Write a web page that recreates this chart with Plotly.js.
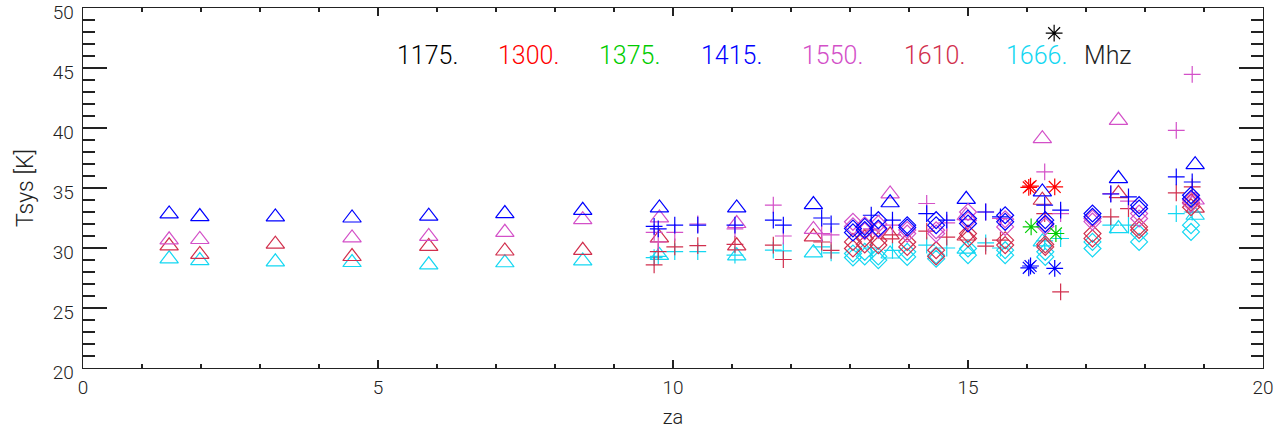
<!DOCTYPE html>
<html>
<head>
<meta charset="utf-8">
<script src="https://cdn.plot.ly/plotly-3.0.1.min.js"></script>
<style>html,body{margin:0;padding:0;background:#fff;}#chart{width:1275px;height:435px;}</style>
</head>
<body>
<div id="chart"></div>
<script>
// ---- frequencies (legend) ----
var freqLabels = ["1175.", "1300.", "1375.", "1415.", "1550.", "1610.", "1666."];
var unitLabel = "Mhz";

// ---- triangles ----
var triZa      = [1.46, 1.98, 3.26, 4.56, 5.86, 7.15, 8.47, 9.77, 11.08, 12.38, 13.68, 14.97, 16.26, 17.55, 18.85];
var triBlue    = [32.84, 32.62, 32.59, 32.50, 32.65, 32.87, 33.14, 33.34, 33.34, 33.62, 33.77, 34.06, 34.67, 35.79, 36.95];
var triMagenta = [30.68, 30.71, null, 30.84, 30.97, 31.31, 32.36, 32.51, 32.04, 31.55, 34.51, 32.70, 39.11, 40.64, 34.00];
var triCrimson = [30.18, 29.47, 30.32, 29.29, 30.13, 29.75, 29.81, 30.84, 30.18, 30.93, 31.10, 31.00, 33.98, 34.54, 33.32];
var triCyan    = [29.10, 28.95, 28.85, 28.79, 28.60, 28.77, 28.92, 29.38, 29.35, 29.60, 29.50, 29.90, 30.51, 31.62, 32.73];

// ---- plus signs ----
var plusZa      = [9.68, 9.75, 10.03, 10.42, 11.05, 11.70, 11.87, 12.52, 12.68, 13.36, 13.72, 14.30, 14.64, 15.30, 15.55, 16.30, 16.57, 17.42, 17.72, 18.53, 18.80];
var plusBlue    = [31.80, 31.60, 31.90, 31.90, 31.90, 32.32, 31.90, 32.50, 32.00, 32.73, 32.32, 32.87, 32.32, 33.00, 32.60, 33.57, 33.15, 34.50, 34.26, 35.92, 35.50];
var plusMagenta = [31.30, 30.50, 31.30, 32.00, 31.60, 33.57, 31.00, 31.20, 31.10, 31.60, 31.90, 33.71, 32.10, 33.00, 32.46, 36.34, 32.87, 34.54, 33.90, 39.80, 44.47];
var plusCrimson = [28.60, 29.70, 30.10, 30.20, 30.30, 30.24, 29.04, 30.50, 29.80, 31.50, 31.10, 31.40, 30.90, 30.15, 30.65, 32.87, 26.35, 32.60, 33.29, 34.60, 35.09];
var plusCyan    = [29.20, 29.30, 29.70, 29.70, 29.40, 29.82, 29.76, 30.10, 29.60, 30.00, 29.80, 30.24, 30.00, 30.43, 30.00, 30.60, 30.79, 31.90, 31.90, 32.87, 33.00];

// ---- diamonds (two overplotted sets) ----
var diaZa       = [13.05, 13.25, 13.48, 13.97, 14.46, 15.00, 15.63, 16.31, 17.11, 17.90, 18.78];
var diaBlueA    = [31.62, 31.76, 32.32, 31.90, 32.32, 32.46, 32.73, 32.32, 32.87, 33.57, 34.40];
var diaBlueB    = [31.30, 31.50, 31.62, 31.70, 31.90, 32.04, 32.18, 32.00, 32.60, 33.29, 34.10];
var diaMagentaA = [32.18, 31.90, 32.00, 31.20, 31.48, 33.00, 32.40, 32.04, 32.46, 32.87, 34.00];
var diaMagentaB = [31.80, 31.40, 31.50, 31.50, 31.20, 32.30, 31.76, 31.80, 32.20, 32.46, 33.70];
var diaCrimsonA = [30.51, 30.79, 30.60, 30.50, 29.82, 31.20, 30.65, 30.09, 31.20, 31.76, 33.80];
var diaCrimsonB = [29.96, 30.30, 30.24, 30.09, 29.30, 30.79, 30.24, 30.30, 30.80, 31.50, 33.40];
var diaCyanA    = [29.54, 29.68, 29.30, 29.68, 29.40, 29.96, 29.82, 29.68, 30.51, 31.21, 31.90];
var diaCyanB    = [29.21, 29.30, 28.99, 29.26, 29.10, 29.40, 29.40, 29.26, 29.96, 30.51, 31.34];

// ---- asterisks ----
var astBlackZa = [16.46];        var astBlack = [47.90];
var astRedZa   = [16.03, 16.06, 16.47]; var astRed   = [35.05, 35.15, 35.09];
var astGreenZa = [16.07, 16.49]; var astGreen = [31.76, 31.21];
var astBlueZa  = [16.03, 16.06, 16.47]; var astBlue  = [28.35, 28.50, 28.30];

// ---- styling ----
var C = {black:"#000000", red:"#ff0000", green:"#00cc00", blue:"#0000ff",
         magenta:"#d350c8", crimson:"#d12f4d", cyan:"#14d7f2"};
var legendColors = [C.black, C.red, C.green, C.blue, C.magenta, C.crimson, C.cyan];

function tr(x, y, sym, size, color) {
  return {x: x, y: y, type: "scatter", mode: "markers", showlegend: false, hoverinfo: "x+y",
          marker: {symbol: sym, size: size, color: color, line: {color: color, width: 1.2}}};
}
var TRI = "triangle-up-open", PLUS = "cross-thin-open", DIA = "diamond-open", AST = "asterisk-open";
var data = [
  tr(triZa, triCyan, TRI, 16, C.cyan),
  tr(triZa, triCrimson, TRI, 16, C.crimson),
  tr(triZa, triMagenta, TRI, 16, C.magenta),
  tr(triZa, triBlue, TRI, 16, C.blue),
  tr(plusZa, plusCyan, PLUS, 12, C.cyan),
  tr(plusZa, plusCrimson, PLUS, 12, C.crimson),
  tr(plusZa, plusMagenta, PLUS, 12, C.magenta),
  tr(plusZa, plusBlue, PLUS, 12, C.blue),
  tr(diaZa, diaCyanB, DIA, 13, C.cyan),
  tr(diaZa, diaCyanA, DIA, 13, C.cyan),
  tr(diaZa, diaCrimsonB, DIA, 13, C.crimson),
  tr(diaZa, diaCrimsonA, DIA, 13, C.crimson),
  tr(diaZa, diaMagentaB, DIA, 13, C.magenta),
  tr(diaZa, diaMagentaA, DIA, 13, C.magenta),
  tr(diaZa, diaBlueB, DIA, 13, C.blue),
  tr(diaZa, diaBlueA, DIA, 13, C.blue),
  tr(astBlackZa, astBlack, AST, 14, C.black),
  tr(astRedZa, astRed, AST, 14, C.red),
  tr(astGreenZa, astGreen, AST, 14, C.green),
  tr(astBlueZa, astBlue, AST, 14, C.blue)
];

var FONT = "Roboto, DejaVu Sans, sans-serif";
var W = 300;
var legendLeftPx = [395, 496, 597, 699, 800, 902, 1004];
var annotations = freqLabels.map(function (t, i) {
  return {text: t, xref: "paper", yref: "paper", x: (legendLeftPx[i] - 83) / 1180, y: (368 - 55) / 360.5,
          xanchor: "left", yanchor: "middle", showarrow: false,
          font: {family: FONT, size: 25, weight: W, color: legendColors[i]}};
});
annotations.push({text: unitLabel, xref: "paper", yref: "paper", x: (1082 - 83) / 1180, y: (368 - 55) / 360.5,
                  xanchor: "left", yanchor: "middle", showarrow: false,
                  font: {family: FONT, size: 25, weight: W, color: "#222"}});

var axisCommon = {
  showline: true, linecolor: "#222", linewidth: 1.3, mirror: "ticks",
  ticks: "inside", tickcolor: "#222", tickwidth: 1.2,
  showgrid: false, zeroline: false, fixedrange: true, ticklabeloverflow: "allow",
  tickfont: {family: FONT, size: 19, weight: W, color: "#222"}
};
var layout = {
  width: 1275, height: 435,
  margin: {l: 83, r: 12, t: 8, b: 67},
  paper_bgcolor: "#fff", plot_bgcolor: "#fff",
  showlegend: false,
  xaxis: Object.assign({}, axisCommon, {
    range: [0, 20], tick0: 0, dtick: 5, ticklen: 8, ticklabelstandoff: 2,
    minor: {dtick: 1, ticks: "inside", ticklen: 4, tickcolor: "#222", tickwidth: 1.2, showgrid: false},
    title: {text: "za", font: {family: FONT, size: 20, weight: W, color: "#222"}, standoff: 12}
  }),
  yaxis: Object.assign({}, axisCommon, {
    range: [20, 50.001], tick0: 20, dtick: 5, ticklen: 24, ticklabelstandoff: 4, ticklabelshift: 4,
    minor: {dtick: 1, ticks: "inside", ticklen: 12, tickcolor: "#222", tickwidth: 1.2, showgrid: false},
    title: {text: "Tsys [K]", font: {family: FONT, size: 23, weight: W, color: "#222"}, standoff: 12}
  }),
  annotations: annotations
};
Plotly.newPlot("chart", data, layout, {displayModeBar: false, staticPlot: true});
</script>
</body>
</html>
